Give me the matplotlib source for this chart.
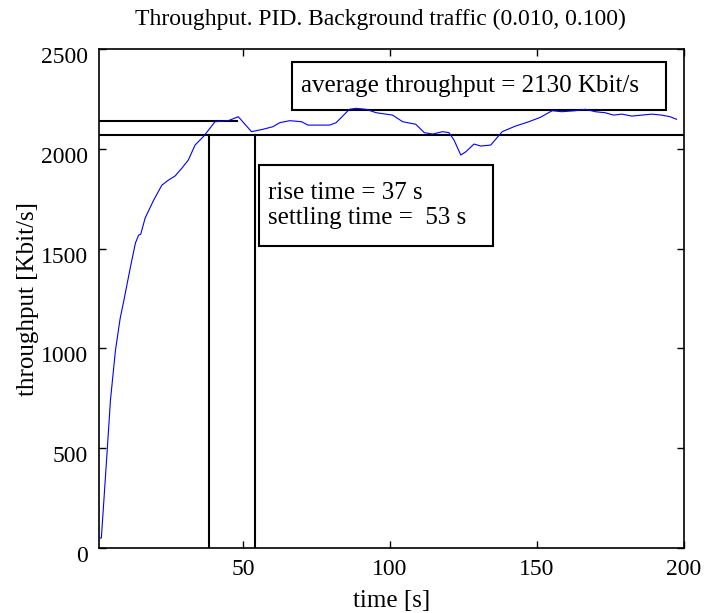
import matplotlib
matplotlib.use("Agg")
import matplotlib.pyplot as plt
from matplotlib.patches import Rectangle
from matplotlib.transforms import ScaledTranslation

plt.rcParams['font.family'] = ['Liberation Serif', 'DejaVu Serif']

time_s = [1, 1.8, 2.4, 3.8, 4.9, 6.6, 8.2, 9.6, 11.7, 13.4, 14.5, 15.2, 16.7, 19.6, 22.4, 24.6,
          26.9, 29.2, 31.4, 33.7, 36.5, 38.8, 40.5, 45, 48.4, 52.9, 56.8, 60.2, 62.5,
          65.9, 69.9, 72.1, 79.5, 81.7, 86.2, 88.5, 91.9, 95.3, 100.9, 104.3, 108.8,
          111.7, 114.5, 117.9, 120.1, 121.8, 124.1, 125.8, 128.6, 130.9, 134.3, 138.2,
          142.7, 147.3, 151.2, 155.2, 158.5, 163.1, 166.5, 169.9, 173.2, 176.1, 178.9,
          182.3, 185.7, 189.1, 192.4, 195.3, 197.5]
throughput = [50, 50, 180, 490, 740, 990, 1150, 1250, 1408, 1528, 1568, 1572, 1653, 1743, 1818, 1843,
              1864, 1903, 1944, 2019, 2061, 2104, 2136, 2141, 2161, 2086, 2098, 2111, 2131,
              2141, 2136, 2119, 2119, 2131, 2198, 2203, 2198, 2181, 2169, 2136, 2123,
              2081, 2074, 2086, 2081, 2044, 1969, 1985, 2024, 2014, 2019, 2086,
              2114, 2136, 2158, 2191, 2186, 2191, 2198, 2186, 2181, 2169, 2174,
              2164, 2169, 2174, 2169, 2161, 2148]

rise_level = 2140
rise_level_end = 48
band_level = 2070
rise_time = 38.5
settling_time = 54
avg_text = "average throughput = 2130 Kbit/s"
rise_text = "rise time = 37 s\nsettling time =  53 s"

fig = plt.figure(figsize=(7.05, 6.13), dpi=100)
ax = fig.add_axes([0.1404, 0.106, 0.8296, 0.814])

ax.plot(time_s, throughput, color='#0000ff', lw=0.8, zorder=5)
ax.plot([1, rise_level_end], [rise_level, rise_level], color='black', lw=1.5)
ax.axhline(band_level, color='black', lw=1.5)
ax.plot([rise_time, rise_time], [0, band_level], color='black', lw=1.5)
ax.plot([settling_time, settling_time], [0, band_level], color='black', lw=1.5)

# annotation boxes
ax.add_patch(Rectangle((66.6, 2194), 194.0 - 66.6, 2435 - 2194, fc='white', ec='black', lw=1.5, zorder=3))
ax.add_patch(Rectangle((55.4, 1513), 135.1 - 55.4, 1919 - 1513, fc='white', ec='black', lw=1.5, zorder=3))
ax.text(69.8, 2315, avg_text, fontsize=18, va='center', ha='left', zorder=4)
ax.text(58.6, 1716, rise_text, fontsize=18, va='center', ha='left', linespacing=1.15, zorder=4)

ax.set_xlim(1, 200)
ax.set_ylim(0, 2500)
ax.set_xticks([50, 100, 150, 200])
ax.set_yticks([0, 500, 1000, 1500, 2000, 2500])
ax.tick_params(direction='in', top=True, right=True, labelsize=17, length=5, width=1)
ax.tick_params(axis='x', pad=8)
ax.tick_params(axis='y', pad=8)
for s in ax.spines.values():
    s.set_linewidth(1.2)

ax.set_title("Throughput. PID. Background traffic (0.010, 0.100)", fontsize=17, pad=17, x=0.482)
ax.set_xlabel("time [s]", fontsize=18, labelpad=7)
ax.set_ylabel("throughput [Kbit/s]", fontsize=18, labelpad=1.5)

fig.canvas.draw()
off = ScaledTranslation(0, -6 / 100, fig.dpi_scale_trans)
for t in ax.yaxis.get_major_ticks():
    t.label1.set_transform(t.label1.get_transform() + off)

fig.savefig("out.png", dpi=100)
